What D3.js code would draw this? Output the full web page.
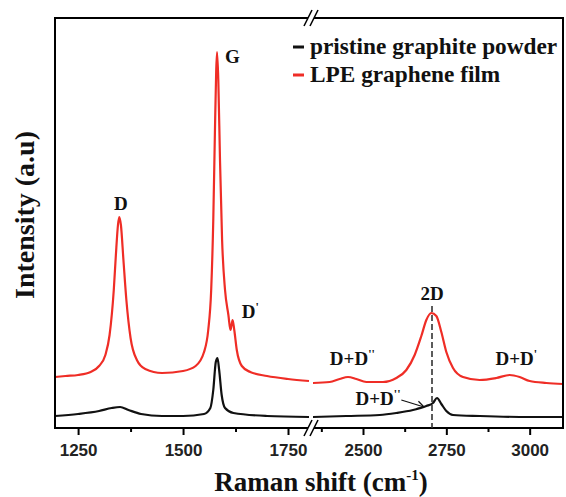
<!DOCTYPE html>
<html>

<head>
    <title>Raman spectra</title>
    <script src="https://cdn.jsdelivr.net/npm/d3@7"></script>
    <style>
        body {
            margin: 0;
            background: white;
        }
    </style>
</head>

<body>
    <div id="visDiv"></div>
</body>
<script>
    /* Data */
    // [Raman shift (cm-1), intensity (a.u.)]
    var redLow = [[1195, 51], [1220, 52], [1250, 53], [1280, 56], [1300, 62], [1315, 73], [1325, 93], [1335, 138],
        [1340, 173], [1345, 203], [1348, 211], [1352, 203], [1358, 168], [1365, 128], [1375, 90], [1390, 68],
        [1410, 59], [1450, 55], [1500, 57], [1530, 62], [1550, 76], [1560, 98], [1567, 138], [1572, 208],
        [1576, 298], [1579, 358], [1581, 376], [1584, 348], [1588, 268], [1593, 188], [1600, 138], [1608, 113],
        [1613, 98], [1618, 108], [1622, 98], [1628, 78], [1640, 62], [1660, 56], [1700, 52], [1750, 49], [1800, 47]];
    var blackLow = [[1195, 12], [1250, 14], [1300, 17], [1330, 20], [1350, 21], [1370, 18], [1400, 14], [1450, 12],
        [1500, 12], [1550, 14], [1565, 20], [1572, 38], [1578, 66], [1582, 70], [1586, 58], [1592, 33], [1600, 20],
        [1620, 15], [1700, 12], [1800, 11]];
    var redHigh = [[2350, 45], [2400, 46], [2430, 49], [2455, 51], [2480, 49], [2510, 46], [2560, 46], [2600, 50],
        [2630, 58], [2655, 73], [2675, 92], [2690, 108], [2705, 115], [2720, 112], [2735, 96], [2750, 76],
        [2770, 60], [2800, 51], [2850, 48], [2900, 50], [2940, 53], [2970, 51], [3000, 47], [3050, 45], [3100, 44]];
    var blackHigh = [[2350, 11], [2450, 12], [2550, 13], [2600, 15], [2650, 18], [2690, 22], [2710, 25], [2722, 30],
        [2735, 24], [2750, 17], [2770, 13], [2850, 12], [3000, 11], [3100, 11]];

    var lowMajor = [1250, 1500, 1750], lowMinor = [1375, 1625];
    var highMajor = [2500, 2750, 3000], highMinor = [2375, 2625, 2875];

    var legendLabels = ["pristine graphite powder", "LPE graphene film"];
    var legendColors = ["#111111", "#ef2d26"];

    // peak labels: [text, prime marks, shift, intensity, anchor, segment]
    var peakLabels = [
        ["D", "", 1352, 218, "middle", "low"],
        ["G", "", 1600, 365, "start", "low"],
        ["D", "'", 1640, 110, "start", "low"],
        ["2D", "", 2707, 128, "middle", "high"],
        ["D+D", "''", 2468, 63, "middle", "high"],
        ["D+D", "'", 2960, 63, "middle", "high"],
        ["D+D", "''", 2545, 23, "middle", "high"]
    ];

    /* Layout constants */
    var W = 566, H = 497;
    var mTop = 18, mBottom = 428, mLeft = 55, mRight = 563;

    var svg = d3.select("#visDiv").append("svg")
        .attr("width", W)
        .attr("height", H);

    /* Scales */
    var xLow = d3.scaleLinear().domain([1195, 1800]).range([mLeft, 309]);
    var xHigh = d3.scaleLinear().domain([2350, 3100]).range([313, mRight]);
    var y = d3.scaleLinear().domain([0, 410]).range([mBottom, mTop]);

    /* Spectra */
    function drawLine(data, xs, color) {
        svg.append("path")
            .datum(data)
            .attr("fill", "none")
            .attr("stroke", color)
            .attr("stroke-width", 2.2)
            .attr("stroke-linejoin", "round")
            .attr("d", d3.line()
                .curve(d3.curveMonotoneX)
                .x(function (d) { return xs(d[0]) })
                .y(function (d) { return y(d[1]) }));
    }
    drawLine(redLow, xLow, legendColors[1]);
    drawLine(redHigh, xHigh, legendColors[1]);
    drawLine(blackLow, xLow, legendColors[0]);
    drawLine(blackHigh, xHigh, legendColors[0]);

    /* Frame */
    svg.append("rect")
        .attr("x", mLeft).attr("y", mTop)
        .attr("width", mRight - mLeft).attr("height", mBottom - mTop)
        .attr("fill", "none")
        .attr("stroke", "black")
        .attr("stroke-width", 2);

    /* Axes */
    function axis(xs, major, minor) {
        var gMaj = svg.append("g")
            .attr("transform", "translate(0," + mBottom + ")")
            .call(d3.axisBottom(xs).tickValues(major).tickFormat(d3.format("d"))
                .tickSize(7).tickPadding(9).tickSizeOuter(0));
        svg.append("g")
            .attr("transform", "translate(0," + mBottom + ")")
            .call(d3.axisBottom(xs).tickValues(minor).tickSize(4).tickFormat("").tickSizeOuter(0));
        svg.selectAll(".domain").remove();
        gMaj.selectAll("text")
            .attr("font-family", "'Liberation Sans', Arial, sans-serif")
            .attr("font-weight", "bold")
            .attr("font-size", 17)
            .attr("fill", "#222");
    }
    axis(xLow, lowMajor, lowMinor);
    axis(xHigh, highMajor, highMinor);
    svg.selectAll(".tick line").attr("stroke", "black").attr("stroke-width", 2);

    /* Axis break marks */
    var breakX = 311;
    [mTop, mBottom].forEach(function (yy) {
        svg.append("rect")
            .attr("x", breakX - 3).attr("y", yy - 2)
            .attr("width", 6).attr("height", 4)
            .attr("fill", "white");
        [-3, 3].forEach(function (dx) {
            svg.append("line")
                .attr("x1", breakX + dx - 4).attr("y1", yy + 8)
                .attr("x2", breakX + dx + 4).attr("y2", yy - 8)
                .attr("stroke", "black")
                .attr("stroke-width", 1.6);
        });
    });

    /* Titles */
    var serif = "'Liberation Serif', 'Times New Roman', serif";
    var xTitle = svg.append("text")
        .attr("x", (mLeft + mRight) / 2 + 12)
        .attr("y", 491)
        .attr("text-anchor", "middle")
        .attr("font-family", serif)
        .attr("font-weight", "bold")
        .attr("font-size", 27)
        .attr("fill", "#111");
    xTitle.append("tspan").text("Raman shift (cm");
    xTitle.append("tspan").text("-1").attr("font-size", 15).attr("dy", -11);
    xTitle.append("tspan").text(")").attr("dy", 11);

    svg.append("text")
        .attr("transform", "translate(34,215) rotate(-90)")
        .attr("text-anchor", "middle")
        .attr("font-family", serif)
        .attr("font-weight", "bold")
        .attr("font-size", 28)
        .attr("fill", "#111")
        .text("Intensity (a.u)");

    /* Legend */
    legendLabels.forEach(function (label, i) {
        var ly = 47 + i * 28;
        svg.append("line")
            .attr("x1", 293).attr("x2", 304)
            .attr("y1", ly).attr("y2", ly)
            .attr("stroke", legendColors[i])
            .attr("stroke-width", 3);
        svg.append("text")
            .attr("x", 310).attr("y", ly + 7)
            .attr("font-family", serif)
            .attr("font-weight", "bold")
            .attr("font-size", 23.3)
            .attr("fill", "#111")
            .text(label);
    });

    /* Peak labels */
    peakLabels.forEach(function (p) {
        var xs = p[5] == "low" ? xLow : xHigh;
        var t = svg.append("text")
            .attr("x", xs(p[2]))
            .attr("y", y(p[3]))
            .attr("text-anchor", p[4])
            .attr("font-family", serif)
            .attr("font-weight", "bold")
            .attr("font-size", 19)
            .attr("fill", "#111");
        t.append("tspan").text(p[0]);
        if (p[1] != "")
            t.append("tspan").text(p[1]).attr("font-size", 12).attr("dy", -7);
    });

    // arrow to the black D+D'' shoulder
    var ax1 = xHigh(2615), ay1 = y(28), ax2 = xHigh(2683), ay2 = y(21);
    svg.append("line")
        .attr("x1", ax1).attr("y1", ay1).attr("x2", ax2).attr("y2", ay2)
        .attr("stroke", "#111").attr("stroke-width", 1.2);
    var ang = Math.atan2(ay2 - ay1, ax2 - ax1);
    [0.5, -0.5].forEach(function (da) {
        svg.append("line")
            .attr("x1", ax2).attr("y1", ay2)
            .attr("x2", ax2 - 8 * Math.cos(ang + da)).attr("y2", ay2 - 8 * Math.sin(ang + da))
            .attr("stroke", "#111").attr("stroke-width", 1.2);
    });

    /* 2D guide line */
    svg.append("line")
        .attr("x1", xHigh(2707)).attr("x2", xHigh(2707))
        .attr("y1", y(122)).attr("y2", mBottom)
        .attr("stroke", "#333")
        .attr("stroke-width", 1.6)
        .attr("stroke-dasharray", "6,3");
</script>

</html>
